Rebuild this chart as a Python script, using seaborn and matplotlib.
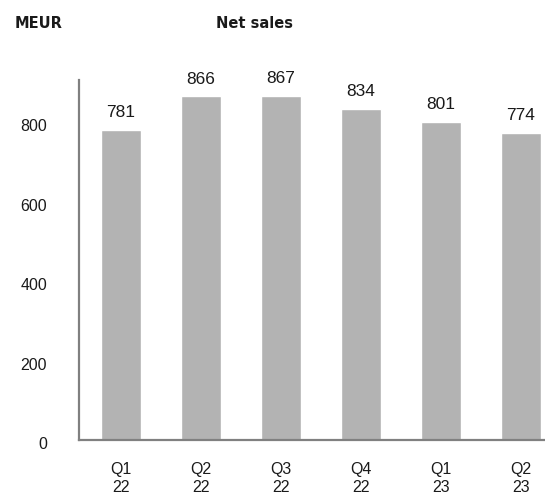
import pandas as pd
import numpy as np
import seaborn as sns
import matplotlib.pyplot as plt
import matplotlib.transforms as mtransforms

# quarters and net sales (MEUR)
quarters = ['Q1\n22', 'Q2\n22', 'Q3\n22', 'Q4\n22', 'Q1\n23', 'Q2\n23']
net_sales = [781, 866, 867, 834, 801, 774]
y_ticks = [0, 200, 400, 600, 800]

df = pd.DataFrame({'quarter': quarters, 'sales': net_sales})

sns.set_style('white')
plt.rcParams['font.family'] = ['Liberation Sans', 'DejaVu Sans']

fig = plt.figure(figsize=(5.45, 4.97), dpi=100)
ax = fig.add_axes([79 / 545, 1 - 440 / 497, 1 - 79 / 545, 360 / 497])

sns.barplot(data=df, x='quarter', y='sales', color='#b3b3b3', width=0.5,
            saturation=1, ax=ax)

for p, v in zip(ax.patches, net_sales):
    ax.annotate(f'{v}', (p.get_x() + p.get_width() / 2, p.get_height()),
                xytext=(0, 7), textcoords='offset points',
                ha='center', va='bottom', fontsize=12.5, color='#1a1a1a')

ax.set_ylim(0, 907)
ax.set_xlim(-0.525, 5.3)
ax.set_yticks(y_ticks)
ax.tick_params(axis='y', length=0, pad=23, labelsize=11.5, labelcolor='#1a1a1a')
ax.tick_params(axis='x', length=0, pad=16, labelsize=11.5, labelcolor='#1a1a1a')
for lbl in ax.get_xticklabels():
    lbl.set_linespacing(1.2)
shift = mtransforms.ScaledTranslation(0, -3 / 100, fig.dpi_scale_trans)
for lbl in ax.get_yticklabels():
    lbl.set_transform(lbl.get_transform() + shift)
ax.set_xlabel('')
ax.set_ylabel('')

for s in ['top', 'right']:
    ax.spines[s].set_visible(False)
for s in ['left', 'bottom']:
    ax.spines[s].set_color('#808080')
    ax.spines[s].set_linewidth(1.6)

fig.text(15 / 545, 1 - 23 / 497, 'MEUR', fontweight='bold', fontsize=10.5,
         ha='left', va='center', color='#1a1a1a', family='DejaVu Sans')
fig.text(254 / 545, 1 - 23 / 497, 'Net sales', fontweight='bold', fontsize=10.5,
         ha='center', va='center', color='#1a1a1a', family='DejaVu Sans')

plt.savefig('out.png', dpi=100)
